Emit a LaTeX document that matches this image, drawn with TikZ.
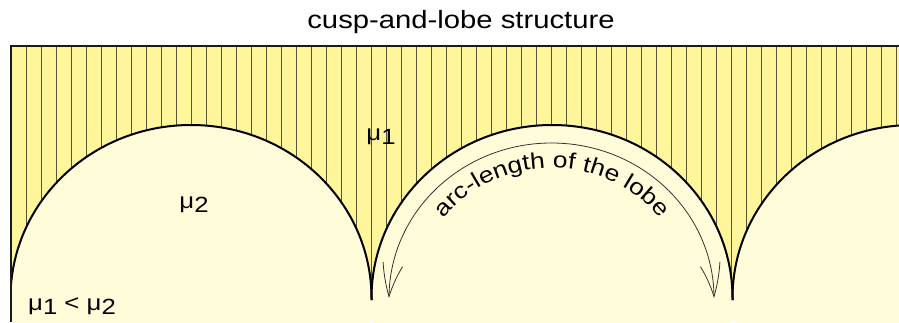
\documentclass[tikz,border=0pt]{standalone}
\usepackage{fontspec}
\setmainfont{Liberation Sans}[FakeStretch=1.17]
\usetikzlibrary{arrows.meta,bending,decorations.text}

\definecolor{hatchyellow}{HTML}{FFF59A}
\definecolor{lobeyellow}{HTML}{FFFCD9}
\newcommand{\mulabel}[1]{μ\raisebox{-4pt}{#1}}

\begin{document}
\begin{tikzpicture}[
  x=1pt, y=1pt,
  lobe/.style={draw=black, line width=2pt},
  frame/.style={draw=black!90, line width=2pt},
  hatch/.style={draw=black!65!hatchyellow, line width=0.8pt},
  measure/.style={draw=black!80, line width=0.8pt,
    {Straight Barb[length=33pt,width=20pt,bend]}-{Straight Barb[length=33pt,width=20pt,bend]}},
  mlabel/.style={font=\fontsize{22}{26}\selectfont, anchor=base, inner sep=0pt}
]
  % margen blanco arriba para el titulo
  \useasboundingbox (0,0) rectangle (899,322);

  % --- FONDO Y LOBULOS ---
  \begin{scope}
    \clip (11,0) rectangle (899,276);
    \fill[lobeyellow] (11,0) rectangle (899,276);
    \fill[hatchyellow] (11,24) rectangle (899,276);
    \foreach \k in {0,...,58}
      \draw[hatch] ({26.7+15*\k},24) -- ({26.7+15*\k},276);
    \foreach \cx in {191,552,913}
      \fill[lobeyellow] (\cx,24) ellipse [x radius=180.5, y radius=173];
    \foreach \cx in {191,552,913}
      \draw[lobe] (\cx-180.5,22) -- (\cx-180.5,24)
        arc[start angle=180, end angle=0, x radius=180.5, y radius=173] -- ++(0,-2);
  \end{scope}
  \draw[frame] (11,0) -- (11,276) -- (899,276);

  % --- FLECHA DEL ARCO ---
  \coordinate (arcL) at (389,24);
  \draw[measure] (arcL) arc[start angle=180, end angle=0, x radius=162.5, y radius=155];
  \path[decorate, decoration={text along path, text align=center,
      text={|\fontsize{22.5}{26}\selectfont|arc-length of the lobe}}]
    (415,24) arc[start angle=180, end angle=0, x radius=137, y radius=130];

  % --- ETIQUETAS ---
  \node[font=\fontsize{25}{30}\selectfont] (title) at (461,300) {cusp-and-lobe structure};
  \node[mlabel] (mu1) at (381,182) {\mulabel{1}};
  \node[mlabel] (mu2) at (194,114) {\mulabel{2}};
  \node[mlabel, anchor=base west] (murel) at (28,12) {\mulabel{1} < \mulabel{2}};
\end{tikzpicture}
\end{document}
